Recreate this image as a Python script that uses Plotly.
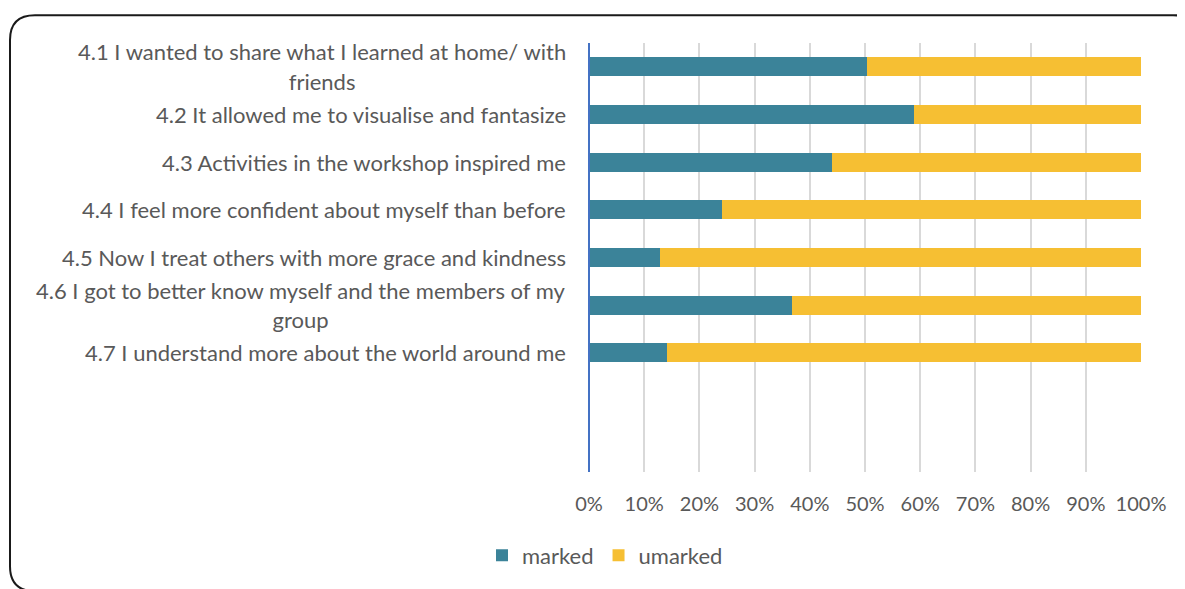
import plotly.graph_objects as go

categories = [
    "4.1 I wanted to share what I learned at home/ with|friends",
    "4.2 It allowed me to visualise and fantasize",
    "4.3 Activities in the workshop inspired me",
    "4.4 I feel more confident about myself than before",
    "4.5 Now I treat others with more grace and kindness",
    "4.6 I got to better know myself and the members of my|group",
    "4.7 I understand more about the world around me",
]
empty_slots = [" ", "  "]
marked = [50.4, 58.9, 44.0, 24.1, 12.8, 36.8, 14.1]
umarked = [100 - v for v in marked]
x_ticks = [0, 10, 20, 30, 40, 50, 60, 70, 80, 90, 100]
x_ticklabels = [f"{t}%" for t in x_ticks]

OFF = 8  # page body margin
W, H = 1185 - OFF, 589 - OFF
ML, MR, MT, MB = 589 - OFF, 44, 43 - OFF, 114
PW, PH = W - ML - MR, H - MT - MB

def px(xp):
    return (xp - OFF - ML) / PW

def py(yp):
    return (H - MB - (yp - OFF)) / PH

FONT = "Lato"
TXT = "#595959"
FS = 22
TFS = 20
XS = -21

fig = go.Figure()
fig.add_trace(go.Bar(y=categories, x=marked, orientation="h", name="marked",
                     marker=dict(color="#3B8399", line=dict(width=0)), width=0.4))
fig.add_trace(go.Bar(y=categories, x=umarked, orientation="h", name="umarked",
                     marker=dict(color="#F6BF33", line=dict(width=0)), width=0.4))

annotations = []
for c in categories:
    if "|" in c:
        l1, l2 = c.split("|")
        annotations.append(dict(x=0, y=c, xref="paper", yref="y", text=l1,
                                xanchor="right", yanchor="middle", xshift=XS, yshift=15,
                                showarrow=False, font=dict(family=FONT, size=FS, color=TXT)))
        annotations.append(dict(x=0, y=c, xref="paper", yref="y",
                                text=f"<span style='color:rgba(0,0,0,0)'>{l1}</span><br>{l2}",
                                align="center", xanchor="right", yanchor="middle",
                                xshift=XS, yshift=-14.5 + FS * 1.3 / 2,
                                showarrow=False, font=dict(family=FONT, size=FS, color=TXT)))
    else:
        annotations.append(dict(x=0, y=c, xref="paper", yref="y", text=c,
                                xanchor="right", yanchor="middle", xshift=XS,
                                showarrow=False, font=dict(family=FONT, size=FS, color=TXT)))

# rounded border (page pixel coordinates of the reference)
L, T, R, B, r = 10, 15, 1198, 595, 25
path = (f"M {px(L)},{py(T + r)} Q {px(L)},{py(T)} {px(L + r)},{py(T)} "
        f"L {px(R - r)},{py(T)} Q {px(R)},{py(T)} {px(R)},{py(T + r)} "
        f"L {px(R)},{py(B - r)} Q {px(R)},{py(B)} {px(R - r)},{py(B)} "
        f"L {px(L + r)},{py(B)} Q {px(L)},{py(B)} {px(L)},{py(B - r)} Z")

fig.update_layout(
    width=W, height=H,
    margin=dict(l=ML, r=MR, t=MT, b=MB, pad=0),
    barmode="stack",
    plot_bgcolor="white", paper_bgcolor="white",
    font=dict(family=FONT, size=FS, color=TXT),
    showlegend=True,
    legend=dict(orientation="h", x=px(605), xanchor="center", y=py(559), yanchor="middle",
                font=dict(family=FONT, size=FS, color=TXT), traceorder="normal",
                itemwidth=30, bgcolor="rgba(0,0,0,0)"),
    annotations=annotations,
    shapes=[dict(type="path", path=path, xref="paper", yref="paper",
                 line=dict(color="#1a1a1a", width=2), fillcolor="rgba(0,0,0,0)", layer="below"),
            dict(type="line", xref="paper", yref="paper", x0=0, x1=0, y0=0, y1=1,
                 line=dict(color="#4472C4", width=2))],
)
fig.update_xaxes(range=[0, 100], tickvals=x_ticks, ticktext=x_ticklabels,
                 showgrid=True, gridcolor="#D9D9D9", gridwidth=1.5,
                 zeroline=False, showline=False,
                 ticks="outside", ticklen=14, tickcolor="rgba(0,0,0,0)",
                 tickfont=dict(family=FONT, size=TFS, color=TXT), fixedrange=True)
fig.update_yaxes(type="category", categoryorder="array",
                 categoryarray=categories + empty_slots,
                 range=[len(categories) + len(empty_slots) - 0.5, -0.5],
                 showticklabels=False, showgrid=False, zeroline=False, showline=False,
                 fixedrange=True)

fig.write_html("out.html")
